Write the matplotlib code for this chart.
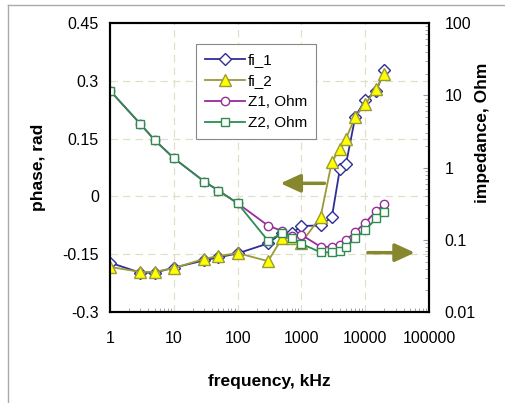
import numpy as np
import matplotlib
matplotlib.use('Agg')
import matplotlib.pyplot as plt
from matplotlib.ticker import FixedLocator, LogLocator, NullFormatter

plt.rcParams['font.family'] = ['Liberation Sans', 'DejaVu Sans']

# data
freq = [1, 3, 5, 10, 30, 50, 100, 300, 500, 700, 1000, 2000, 3000, 4000, 5000,
        7000, 10000, 15000, 20000]
fi_1 = [-0.172, -0.198, -0.198, -0.185, -0.166, -0.158, -0.148, -0.122, -0.094,
        -0.096, -0.077, -0.075, -0.054, 0.070, 0.084, 0.207, 0.250, 0.274, 0.328]
fi_2 = [-0.183, -0.196, -0.196, -0.186, -0.162, -0.155, -0.147, -0.168, -0.108,
        -0.109, -0.120, -0.053, 0.090, 0.122, 0.150, 0.207, 0.239, 0.280, 0.319]
z1 = [11.6, 4.0, 2.4, 1.35, 0.64, 0.48, 0.32, 0.157, 0.132, 0.112, 0.117, 0.080,
      0.080, 0.085, 0.099, 0.129, 0.172, 0.252, 0.31]
z2 = [11.6, 4.0, 2.4, 1.35, 0.64, 0.48, 0.32, 0.097, 0.123, 0.107, 0.088, 0.067,
      0.067, 0.071, 0.079, 0.105, 0.136, 0.198, 0.244]

phase_ticks = [-0.3, -0.15, 0, 0.15, 0.3, 0.45]
phase_labels = ['-0.3', '-0.15', '0', '0.15', '0.3', '0.45']
freq_ticks = [1, 10, 100, 1000, 10000, 100000]
imp_ticks = [0.01, 0.1, 1, 10, 100]

# arrows: (from, to) in (freq, phase)
arrow_left = ((2300, 0.034), (470, 0.034))
arrow_right = ((11000, -0.146), (60000, -0.146))

olive = '#87872e'

fig = plt.figure(figsize=(5.06, 4.03), dpi=100)
ax = fig.add_axes([0.2174, 0.2258, 0.6304, 0.717])

ax.set_xscale('log')
ax.set_xlim(1, 100000)
ax.set_ylim(-0.3, 0.45)
ax.xaxis.set_major_locator(FixedLocator(freq_ticks))
ax.set_xticklabels([str(t) for t in freq_ticks])
ax.xaxis.set_minor_locator(LogLocator(base=10, subs=np.arange(2, 10)))
ax.xaxis.set_minor_formatter(NullFormatter())
ax.set_yticks(phase_ticks)
ax.set_yticklabels(phase_labels)
ax.grid(True, which='major', linestyle=(0, (6, 4)), color='#e0e0c8', linewidth=0.9)
ax.tick_params(axis='both', which='major', length=0, labelsize=11.5, pad=8)
ax.tick_params(axis='x', which='minor', direction='in', length=3, color='#999999')
ax.tick_params(axis='x', which='major', pad=14)

l1, = ax.plot(freq, fi_1, color='#2e2e96', marker='D', markersize=6,
              markerfacecolor='white', markeredgecolor='#2e2e96', linewidth=1.3,
              label='fi_1', zorder=3)
l2, = ax.plot(freq, fi_2, color='#9a9a3a', marker='^', markersize=8,
              markerfacecolor='#ffff00', markeredgecolor='#9a9a3a', linewidth=1.3,
              label='fi_2', zorder=4)

ax.annotate('', xy=arrow_left[1], xytext=arrow_left[0],
            arrowprops=dict(arrowstyle='-|>,head_length=1.2,head_width=0.55',
                            color=olive, linewidth=2.5, shrinkA=0, shrinkB=0))
ax.annotate('', xy=arrow_right[1], xytext=arrow_right[0],
            arrowprops=dict(arrowstyle='-|>,head_length=1.2,head_width=0.55',
                            color=olive, linewidth=2.5, shrinkA=0, shrinkB=0))

ax.set_xlabel('frequency, kHz', fontsize=12.5, fontweight='bold', labelpad=20)
ax.set_ylabel('phase, rad', fontsize=12.5, fontweight='bold', labelpad=12)

ax2 = ax.twinx()
ax2.set_yscale('log')
ax2.set_ylim(0.01, 100)
ax2.yaxis.set_major_locator(FixedLocator(imp_ticks))
ax2.set_yticklabels(['0.01', '0.1', '1', '10', '100'])
ax2.yaxis.set_minor_locator(LogLocator(base=10, subs=np.arange(2, 10)))
ax2.yaxis.set_minor_formatter(NullFormatter())
ax2.tick_params(axis='y', which='major', direction='in', length=4, color='#999999',
                labelsize=11.5, pad=11)
ax2.tick_params(axis='y', which='minor', direction='in', length=3, color='#999999')

l3, = ax2.plot(freq, z1, color='#982c98', marker='o', markersize=6,
               markerfacecolor='white', markeredgecolor='#982c98', linewidth=1.3,
               label='Z1, Ohm')
l4, = ax2.plot(freq, z2, color='#2e8c50', marker='s', markersize=6,
               markerfacecolor='white', markeredgecolor='#2e8c50', linewidth=1.3,
               label='Z2, Ohm')
ax2.set_ylabel('impedance, Ohm', fontsize=12.5, fontweight='bold')
ax2.yaxis.set_label_coords(1.145, 0.62)

for a in (ax, ax2):
    for s in a.spines.values():
        s.set_linewidth(1.5)
        s.set_color('black')

leg = ax2.legend(handles=[l1, l2, l3, l4], loc='upper left',
                 bbox_to_anchor=(0.27, 0.927), borderaxespad=0, fontsize=11,
                 fancybox=False, framealpha=1, edgecolor='#888888',
                 handlelength=2.6, handletextpad=0.2, labelspacing=0.45,
                 borderpad=0.6)
leg.get_frame().set_linewidth(0.8)

# thin frame of the original slide picture
fig.add_artist(plt.Line2D([8 / 506, 1], [1 - 5 / 403, 1 - 5 / 403],
                          color='#aaaaaa', linewidth=1))
fig.add_artist(plt.Line2D([8 / 506, 8 / 506], [0, 1 - 5 / 403],
                          color='#aaaaaa', linewidth=1))

fig.savefig('out.png', dpi=100)
